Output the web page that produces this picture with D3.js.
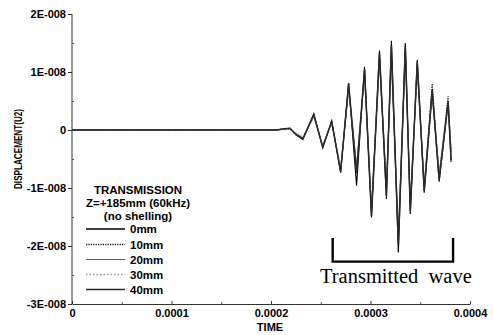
<!DOCTYPE html>
<html>
<head>
<meta charset="utf-8">
<script src="https://cdn.jsdelivr.net/npm/d3@7"></script>
<style>
  html, body { margin: 0; padding: 0; background: #fff; }
  svg { display: block; }
  .lbl { font-family: "Liberation Sans", Arial, sans-serif; font-weight: bold; fill: #000; }
</style>
</head>
<body>
<svg id="chart" width="493" height="335"></svg>
<script>
// Sample times (s), shared by all traces
const times = [0, 0.0001, 0.0002, 0.000205, 0.000214, 0.000219, 0.000225, 0.000232,
  0.000243, 0.000252, 0.000261, 0.000270, 0.000278, 0.000286, 0.000294, 0.000301,
  0.000309, 0.000316, 0.000321, 0.000328, 0.000335, 0.000340, 0.000347, 0.000354,
  0.000362, 0.000369, 0.000378, 0.000381];

// Displacement U2 for each shelling depth
const u2_0mm  = [0, 0, 0, 0.001e-8, 0.02e-8, 0.03e-8, -0.07e-8, -0.155e-8,
  0.276e-8, -0.305e-8, 0.155e-8, -0.736e-8, 0.81e-8, -0.96e-8, 1.09e-8, -1.51e-8,
  1.37e-8, -1.19e-8, 1.54e-8, -2.11e-8, 1.50e-8, -1.45e-8, 1.21e-8, -1.08e-8,
  0.70e-8, -0.89e-8, 0.49e-8, -0.55e-8];
const u2_10mm = [0, 0, 0, 0.002e-8, 0.02e-8, 0.02e-8, -0.08e-8, -0.14e-8,
  0.25e-8, -0.28e-8, 0.13e-8, -0.70e-8, 0.74e-8, -0.66e-8, 1.00e-8, -1.42e-8,
  1.25e-8, -1.00e-8, 1.30e-8, -1.90e-8, 1.38e-8, -1.30e-8, 1.10e-8, -0.98e-8,
  0.80e-8, -0.80e-8, 0.58e-8, -0.40e-8];
const u2_20mm = [0, 0, 0, 0.0e-8, 0.01e-8, 0.03e-8, -0.06e-8, -0.13e-8,
  0.23e-8, -0.27e-8, 0.14e-8, -0.68e-8, 0.70e-8, -0.63e-8, 0.95e-8, -1.35e-8,
  1.20e-8, -0.98e-8, 1.22e-8, -1.80e-8, 1.30e-8, -1.25e-8, 1.05e-8, -0.95e-8,
  0.62e-8, -0.75e-8, 0.45e-8, -0.35e-8];
const u2_30mm = [0, 0, 0, 0.002e-8, 0.015e-8, 0.025e-8, -0.05e-8, -0.12e-8,
  0.22e-8, -0.25e-8, 0.12e-8, -0.64e-8, 0.68e-8, -0.60e-8, 0.92e-8, -1.30e-8,
  1.15e-8, -0.95e-8, 1.18e-8, -1.75e-8, 1.25e-8, -1.20e-8, 1.00e-8, -0.90e-8,
  0.58e-8, -0.72e-8, 0.42e-8, -0.30e-8];
const u2_40mm = [0, 0, 0, 0.0e-8, 0.02e-8, 0.03e-8, -0.08e-8, -0.16e-8,
  0.27e-8, -0.30e-8, 0.15e-8, -0.72e-8, 0.80e-8, -0.75e-8, 1.05e-8, -1.48e-8,
  1.33e-8, -1.12e-8, 1.45e-8, -1.98e-8, 1.45e-8, -1.40e-8, 1.18e-8, -1.05e-8,
  0.68e-8, -0.86e-8, 0.48e-8, -0.52e-8];

const seriesNames = ["0mm", "10mm", "20mm", "30mm", "40mm"];
const seriesValues = [u2_0mm, u2_10mm, u2_20mm, u2_30mm, u2_40mm];
const seriesStyles = [
  { stroke: "#000", width: 1.1, dash: null },
  { stroke: "#111", width: 1.1, dash: "1.2,1.2" },
  { stroke: "#555", width: 0.9, dash: null },
  { stroke: "#9a9a9a", width: 1.1, dash: "1.5,2" },
  { stroke: "#2a2a2a", width: 1.5, dash: null }
];

// Axis ticks and labels
const xTicks = [0, 0.0001, 0.0002, 0.0003, 0.0004];
const xTickLabels = ["0", "0.0001", "0.0002", "0.0003", "0.0004"];
const xMinor = [0.00005, 0.00015, 0.00025, 0.00035];
const yTicks = [2e-8, 1e-8, 0, -1e-8, -2e-8, -3e-8];
const yTickLabels = ["2E-008", "1E-008", "0", "-1E-008", "-2E-008", "-3E-008"];
const yMinor = [1.5e-8, 0.5e-8, -0.5e-8, -1.5e-8, -2.5e-8];

const legendTitle = ["TRANSMISSION", "Z=+185mm (60kHz)", "(no shelling)"];

// Bracket marking the transmitted wave (time range, displacement range)
const bracketTimes = [0.000262, 0.000383];
const bracketU2 = [-1.86e-8, -2.27e-8];
const bracketLabel = "Transmitted  wave";

const svg = d3.select("#chart");
const x = d3.scaleLinear().domain([0, 0.0004]).range([72, 470]);
const y = d3.scaleLinear().domain([-3e-8, 2e-8]).range([304, 14]);

// Traces
const line = d3.line().x(d => x(d[0])).y(d => y(d[1]));
seriesValues.forEach((vals, i) => {
  const st = seriesStyles[i];
  svg.append("path")
    .datum(times.map((t, j) => [t, vals[j]]))
    .attr("fill", "none")
    .attr("stroke", st.stroke)
    .attr("stroke-width", st.width)
    .attr("stroke-dasharray", st.dash)
    .attr("stroke-linejoin", "miter")
    .attr("d", line);
});

// Y axis
const yAxis = svg.append("g").attr("transform", `translate(${x(0)},0)`)
  .call(d3.axisLeft(y).tickValues(yTicks).tickSize(4).tickPadding(2)
    .tickFormat((d, i) => yTickLabels[i]));
yAxis.select(".domain").attr("stroke", "#333").attr("d", `M0,${y(2e-8)}V${y(-3e-8)}`);
yAxis.selectAll(".tick line").attr("stroke", "#333");
yAxis.selectAll(".tick text").attr("class", "lbl").style("font-size", "11px");
svg.append("g").attr("transform", `translate(${x(0)},0)`)
  .call(d3.axisRight(y).tickValues(yMinor).tickSize(2).tickFormat(""))
  .call(g => g.select(".domain").remove())
  .selectAll("line").attr("stroke", "#555");

// X axis (ticks point inward)
const xAxis = svg.append("g").attr("transform", `translate(0,${y(-3e-8)})`)
  .call(d3.axisBottom(x).tickValues(xTicks).tickSizeInner(-3).tickSizeOuter(0).tickPadding(5)
    .tickFormat((d, i) => xTickLabels[i]));
xAxis.select(".domain").attr("stroke", "#333");
xAxis.selectAll(".tick line").attr("stroke", "#333");
xAxis.selectAll(".tick text").attr("class", "lbl").style("font-size", "11px");
svg.append("g").attr("transform", `translate(0,${y(-3e-8)})`)
  .call(d3.axisBottom(x).tickValues(xMinor).tickSizeInner(-2).tickSizeOuter(0).tickFormat(""))
  .call(g => g.select(".domain").remove())
  .selectAll("line").attr("stroke", "#555");

// Axis titles
svg.append("text").attr("class", "lbl").attr("x", 270).attr("y", 331)
  .attr("text-anchor", "middle").style("font-size", "11px").text("TIME");
svg.append("text").attr("class", "lbl")
  .attr("transform", "translate(22,149) rotate(-90)")
  .attr("text-anchor", "middle").style("font-size", "10.5px")
  .attr("textLength", 80).attr("lengthAdjust", "spacingAndGlyphs")
  .text("DISPLACEMENT(U2)");

// Legend
const lg = svg.append("g");
legendTitle.forEach((t, i) => {
  lg.append("text").attr("class", "lbl").attr("x", 138).attr("y", 194 + i * 13)
    .attr("text-anchor", "middle").style("font-size", "11.5px").text(t);
});
const legendY = [229, 244.5, 259.5, 274.5, 289.5];
seriesNames.forEach((n, i) => {
  const st = seriesStyles[i];
  lg.append("line").attr("x1", 86).attr("x2", 125).attr("y1", legendY[i]).attr("y2", legendY[i])
    .attr("stroke", st.stroke).attr("stroke-width", st.width + 0.2)
    .attr("stroke-dasharray", st.dash);
  lg.append("text").attr("class", "lbl").attr("x", 130).attr("y", legendY[i] + 4)
    .style("font-size", "11.5px").text(n);
});

// Bracket annotation
const bx0 = x(bracketTimes[0]), bx1 = x(bracketTimes[1]);
const byTop = y(bracketU2[0]), byBot = y(bracketU2[1]);
svg.append("path")
  .attr("d", `M${bx0},${byTop}V${byBot}H${bx1}V${byTop}`)
  .attr("fill", "none").attr("stroke", "#000").attr("stroke-width", 2.4);
svg.append("text")
  .attr("x", (bx0 + bx1) / 2 + 3).attr("y", byBot + 21)
  .attr("text-anchor", "middle")
  .style("font-family", "'Liberation Serif', 'Times New Roman', serif")
  .style("font-size", "20.5px").style("white-space", "pre").attr("xml:space", "preserve")
  .text(bracketLabel);
</script>
</body>
</html>
